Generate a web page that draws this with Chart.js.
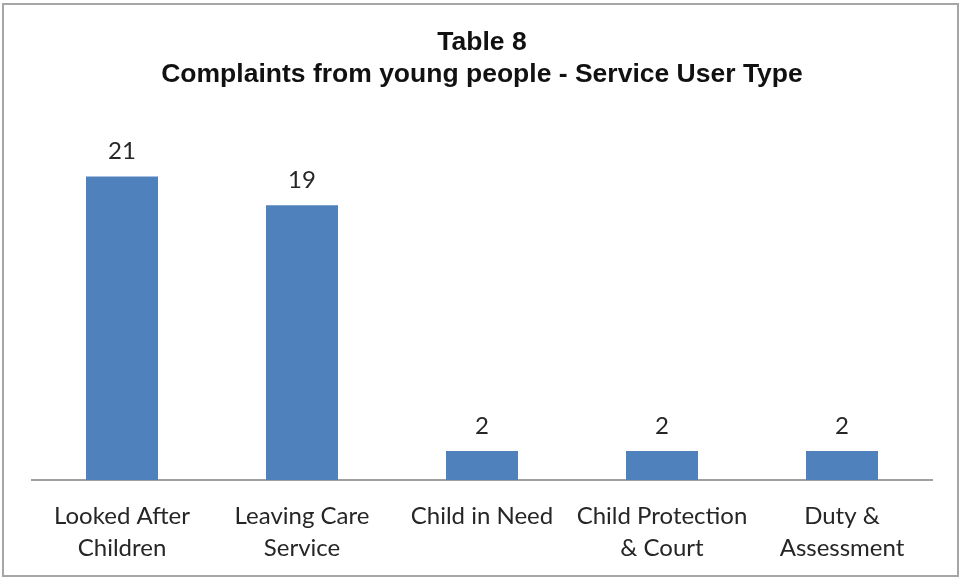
<!DOCTYPE html>
<html>
<head>
<meta charset="utf-8">
<script src="https://cdn.jsdelivr.net/npm/chart.js@4"></script>
<style>
    html, body { margin: 0; padding: 0; background: #fff; }
    #wrap { position: relative; width: 962px; height: 580px; }
</style>
</head>
<body>
<div id="wrap"><canvas id="complaintsChart"></canvas></div>
<script>
const categories = [
    ['Looked After', 'Children'],
    ['Leaving Care', 'Service'],
    ['Child in Need'],
    ['Child Protection', '& Court'],
    ['Duty &', 'Assessment']
];
const complaints = [21, 19, 2, 2, 2];

// value labels above each bar
const barLabels = {
    id: 'barLabels',
    afterDatasetsDraw(chart) {
        const ctx = chart.ctx;
        const meta = chart.getDatasetMeta(0);
        ctx.save();
        ctx.font = '24px Lato';
        ctx.fillStyle = '#262626';
        ctx.textAlign = 'center';
        ctx.textBaseline = 'middle';
        meta.data.forEach(function (bar, i) {
            ctx.fillText(String(complaints[i]), bar.x, bar.y - 25);
        });
        ctx.restore();
    }
};

// outer frame
const frame = {
    id: 'frame',
    afterDraw(chart) {
        const ctx = chart.ctx;
        ctx.save();
        ctx.strokeStyle = '#a6a6a6';
        ctx.lineWidth = 2;
        ctx.strokeRect(3, 4, 955, 572);
        ctx.restore();
    }
};

const ctx = document.getElementById('complaintsChart');
new Chart(ctx, {
    type: 'bar',
    data: {
        labels: categories,
        datasets: [{
            label: 'Complaints',
            data: complaints,
            backgroundColor: '#4f81bd',
            barPercentage: 0.4,
            categoryPercentage: 1
        }]
    },
    options: {
        responsive: true,
        maintainAspectRatio: false,
        animation: false,
        layout: {
            padding: { left: 32, right: 30, top: 0, bottom: -4 }
        },
        plugins: {
            legend: { display: false },
            tooltip: { enabled: false },
            title: {
                display: true,
                text: ['Table 8', 'Complaints from young people - Service User Type'],
                color: '#111',
                font: { family: 'Liberation Sans', size: 26.5, weight: 'bold', lineHeight: 1.2 },
                padding: { top: 27, bottom: 28 }
            }
        },
        scales: {
            x: {
                grid: { display: false, drawTicks: false },
                border: { display: true, color: '#a0a0a0', width: 2 },
                ticks: {
                    color: '#262626',
                    font: { family: 'Lato', size: 24, lineHeight: 1.333 },
                    padding: 20,
                    maxRotation: 0,
                    autoSkip: false
                }
            },
            y: {
                display: false,
                min: 0,
                max: 25
            }
        }
    },
    plugins: [barLabels, frame]
});
</script>
</body>
</html>
